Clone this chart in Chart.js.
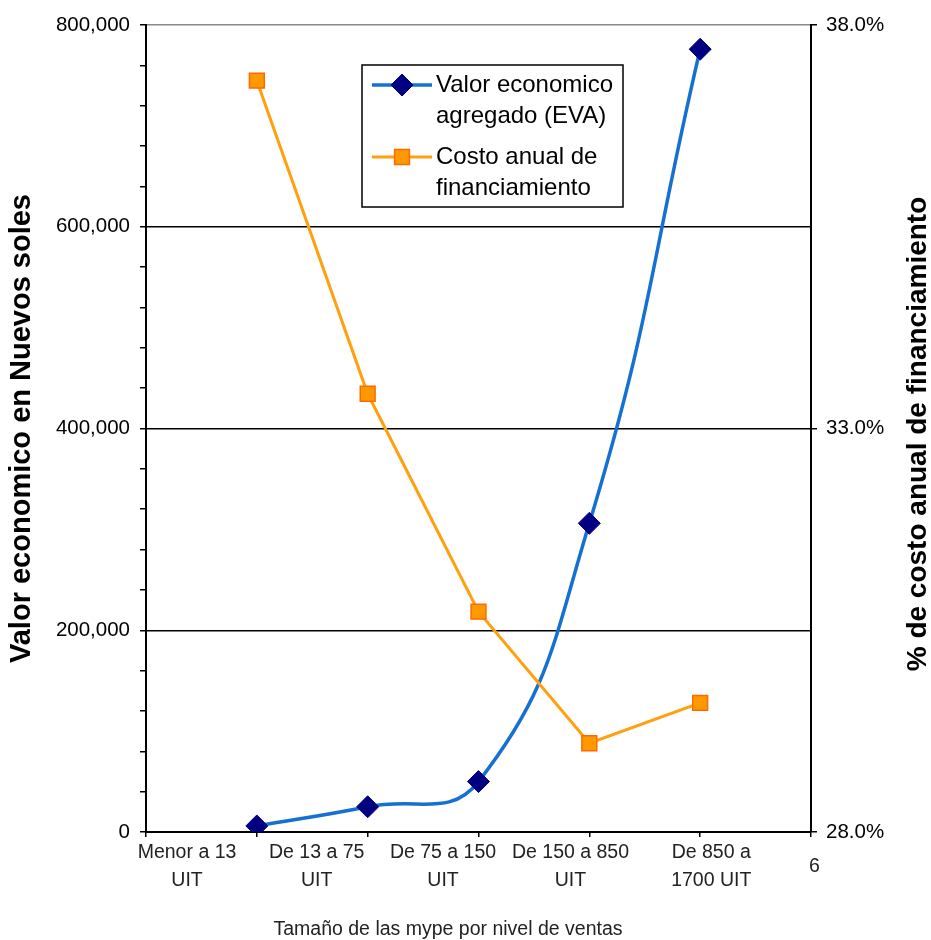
<!DOCTYPE html>
<html>
<head>
<meta charset="utf-8">
<script src="https://cdn.jsdelivr.net/npm/chart.js@4.4.1/dist/chart.umd.min.js"></script>
<style>
  body { margin: 0; background: #fff; }
  canvas { display: block; }
</style>
</head>
<body>
<canvas id="myChart" width="931" height="940"></canvas>
<script>
// data
const categories = [
  ["Menor a 13", "UIT"],
  ["De 13 a 75", "UIT"],
  ["De 75 a 150", "UIT"],
  ["De 150 a 850", "UIT"],
  ["De 850 a", "1700 UIT"],
  "6",
];
const xPositions = [1, 2, 3, 4, 5];
const evaValues = [6000, 25000, 50000, 306000, 776000];
const costoValues = [37.31, 33.43, 30.73, 29.1, 29.6];
const leftTicks = [0, 200000, 400000, 600000, 800000];
const rightTicks = [28, 33, 38];

// where the pasted category labels sit along the x axis (axis units)
const labelSpots = [0.37, 1.54, 2.68, 3.83, 5.1, 6.03];

const FONT = "'Liberation Sans', Arial, sans-serif";

const extras = {
  id: "extras",
  afterDraw(chart) {
    const ctx = chart.ctx;
    const area = chart.chartArea;
    ctx.save();

    // legend box
    ctx.fillStyle = "#fff";
    ctx.fillRect(362, 65, 261, 142);
    ctx.strokeStyle = "#000";
    ctx.lineWidth = 1.5;
    ctx.strokeRect(362, 65, 261, 142);

    const items = [
      { ds: chart.data.datasets[0], y: 85, lines: ["Valor economico", "agregado (EVA)"] },
      { ds: chart.data.datasets[1], y: 157, lines: ["Costo anual de", "financiamiento"] },
    ];
    items.forEach((it) => {
      ctx.strokeStyle = it.ds.borderColor;
      ctx.lineWidth = it.ds.borderWidth;
      ctx.beginPath();
      ctx.moveTo(372, it.y);
      ctx.lineTo(432, it.y);
      ctx.stroke();
      ctx.fillStyle = it.ds.pointBackgroundColor;
      ctx.strokeStyle = it.ds.pointBorderColor;
      ctx.lineWidth = it.ds.pointBorderWidth;
      Chart.helpers.drawPoint(ctx, {
        pointStyle: it.ds.pointStyle,
        radius: it.ds.pointRadius,
        borderWidth: it.ds.pointBorderWidth,
        rotation: 0,
      }, 402, it.y);
      ctx.fillStyle = "#000";
      ctx.font = "24px " + FONT;
      ctx.textAlign = "left";
      ctx.textBaseline = "middle";
      it.lines.forEach((t, i) => ctx.fillText(t, 436, it.y + i * 31));
    });

    // right axis title (reads bottom to top)
    ctx.font = "bold 28px " + FONT;
    ctx.fillStyle = "#000";
    ctx.textAlign = "center";
    ctx.textBaseline = "middle";
    ctx.translate(918, 434);
    ctx.rotate(-Math.PI / 2);
    ctx.fillText("% de costo anual de financiamiento", 0, 0);
    ctx.restore();

    // x axis title
    ctx.save();
    ctx.font = "19.5px " + FONT;
    ctx.fillStyle = "#222";
    ctx.textAlign = "center";
    ctx.textBaseline = "middle";
    ctx.fillText("Tamaño de las mype por nivel de ventas", 448, 930);
    ctx.restore();
  },
};

const data = {
  datasets: [
    {
      label: "Valor economico agregado (EVA)",
      data: xPositions.map((x, i) => ({ x, y: evaValues[i] })),
      yAxisID: "y",
      borderColor: "#1570D2",
      borderWidth: 3.5,
      tension: 0.45,
      pointStyle: "rectRot",
      pointRadius: 11,
      pointBackgroundColor: "#000080",
      pointBorderColor: "#000080",
      pointBorderWidth: 1,
      order: 2,
    },
    {
      label: "Costo anual de financiamiento",
      data: xPositions.map((x, i) => ({ x, y: costoValues[i] })),
      yAxisID: "y1",
      borderColor: "#FFA00F",
      borderWidth: 3,
      tension: 0,
      pointStyle: "rect",
      pointRadius: 10.5,
      pointBackgroundColor: "#FF9900",
      pointBorderColor: "#FF6A00",
      pointBorderWidth: 1.5,
      order: 1,
    },
  ],
};

const config = {
  type: "line",
  data,
  plugins: [extras],
  options: {
    responsive: false,
    animation: false,
    layout: { padding: { top: 25, left: 0, right: 0, bottom: 0 } },
    plugins: {
      legend: { display: false },
      tooltip: { enabled: false },
    },
    scales: {
      x: {
        type: "linear",
        position: "bottom",
        min: 0,
        max: 6,
        ticks: { stepSize: 1, callback: () => "" },
        grid: { drawOnChartArea: false, tickLength: 5, tickColor: "#000", lineWidth: 1.5 },
        border: { color: "#000", width: 2 },
        afterFit: (s) => { s.height = 8; },
      },
      x2: {
        type: "linear",
        position: "bottom",
        min: 0,
        max: 6,
        afterBuildTicks: (s) => { s.ticks = labelSpots.map((v) => ({ value: v })); },
        ticks: {
          autoSkip: false,
          maxRotation: 0,
          crossAlign: "center",
          padding: 13,
          color: "#222",
          font: { family: FONT, size: 19.5, lineHeight: 1.4 },
          callback: (v, i) => categories[i],
        },
        grid: { display: false, drawTicks: false },
        border: { display: false },
        afterFit: (s) => { s.height = 100; },
      },
      y: {
        position: "left",
        min: 0,
        max: 800000,
        ticks: {
          stepSize: 40000,
          autoSkip: false,
          padding: 10,
          color: "#000",
          font: { family: FONT, size: 20.5 },
          callback: (v) => (leftTicks.includes(v) ? v.toLocaleString("en-US") : ""),
        },
        grid: {
          color: (c) => {
            const v = c.tick ? c.tick.value : null;
            if (v === 800000) return "#8a8a8a";
            return leftTicks.includes(v) && v !== 0 ? "#000" : "rgba(0,0,0,0)";
          },
          tickColor: "#000",
          tickLength: 6,
          lineWidth: 1.5,
        },
        border: { color: "#000", width: 2 },
        title: {
          display: true,
          text: "Valor economico en Nuevos soles",
          color: "#000",
          font: { family: FONT, size: 29, weight: "bold" },
          padding: { top: 5, bottom: 0 },
        },
        afterFit: (s) => { s.width = 146; },
      },
      y1: {
        position: "right",
        min: 28,
        max: 38,
        afterBuildTicks: (s) => { s.ticks = rightTicks.map((v) => ({ value: v })); },
        ticks: {
          padding: 9,
          color: "#000",
          font: { family: FONT, size: 20.5 },
          callback: (v) => v.toFixed(1) + "%",
        },
        grid: { drawOnChartArea: false, tickColor: "#000", tickLength: 6, lineWidth: 1.5 },
        border: { color: "#000", width: 2 },
        afterFit: (s) => { s.width = 120; },
      },
    },
  },
};

// render init block
const myChart = new Chart(document.getElementById("myChart"), config);
</script>
</body>
</html>
